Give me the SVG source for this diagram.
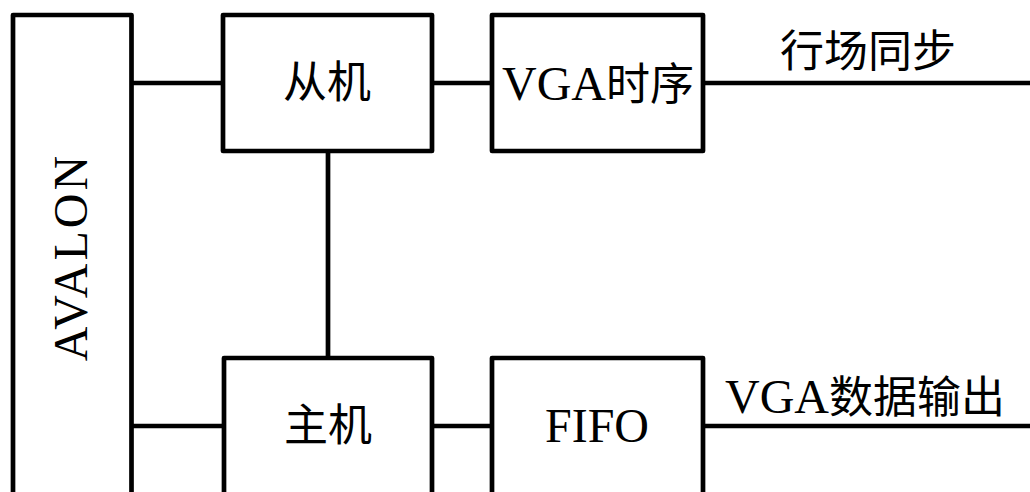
<svg xmlns="http://www.w3.org/2000/svg" width="1030" height="492" viewBox="0 0 1030 492">
<style>
.box{fill:#fff;stroke:#000;stroke-width:4.7;stroke-linejoin:round}
.ln{stroke:#000;stroke-width:4.7;fill:none}
.t{font-family:"Liberation Serif","Noto Sans CJK SC",serif;font-size:48px;fill:#000;text-anchor:middle}
.c{font-size:44px}
</style>
<rect width="1030" height="492" fill="#fff"/>
<g id="connectors">
<line class="ln" x1="131.5" y1="83" x2="223" y2="83"/>
<line class="ln" x1="432" y1="83" x2="492" y2="83"/>
<line class="ln" x1="703" y1="83" x2="1030" y2="83"/>
<line class="ln" x1="328" y1="151" x2="328" y2="358"/>
<line class="ln" x1="131.5" y1="426" x2="224" y2="426"/>
<line class="ln" x1="432" y1="426" x2="492" y2="426"/>
<line class="ln" x1="703" y1="426" x2="1030" y2="426"/>
</g>
<g id="avalon">
<rect class="box" x="13" y="15" width="118.5" height="490"/>
<text class="t" transform="translate(87,257) rotate(-90)" letter-spacing="3">AVALON</text>
</g>
<g id="slave">
<rect class="box" x="223" y="15" width="209" height="136"/>
<text class="t c" x="327" y="98">从机</text>
</g>
<g id="vga-timing">
<rect class="box" x="492" y="15" width="211" height="136"/>
<text class="t" x="598" y="100">VGA<tspan class="c">时序</tspan></text>
</g>
<g id="master">
<rect class="box" x="224" y="358" width="208" height="150"/>
<text class="t c" x="328" y="441">主机</text>
</g>
<g id="fifo">
<rect class="box" x="492" y="358" width="211" height="150"/>
<text class="t" x="597" y="442">FIFO</text>
</g>
<g id="labels">
<text class="t c" x="868" y="67">行场同步</text>
<text class="t" x="865" y="413">VGA<tspan class="c">数据输出</tspan></text>
</g>
</svg>
